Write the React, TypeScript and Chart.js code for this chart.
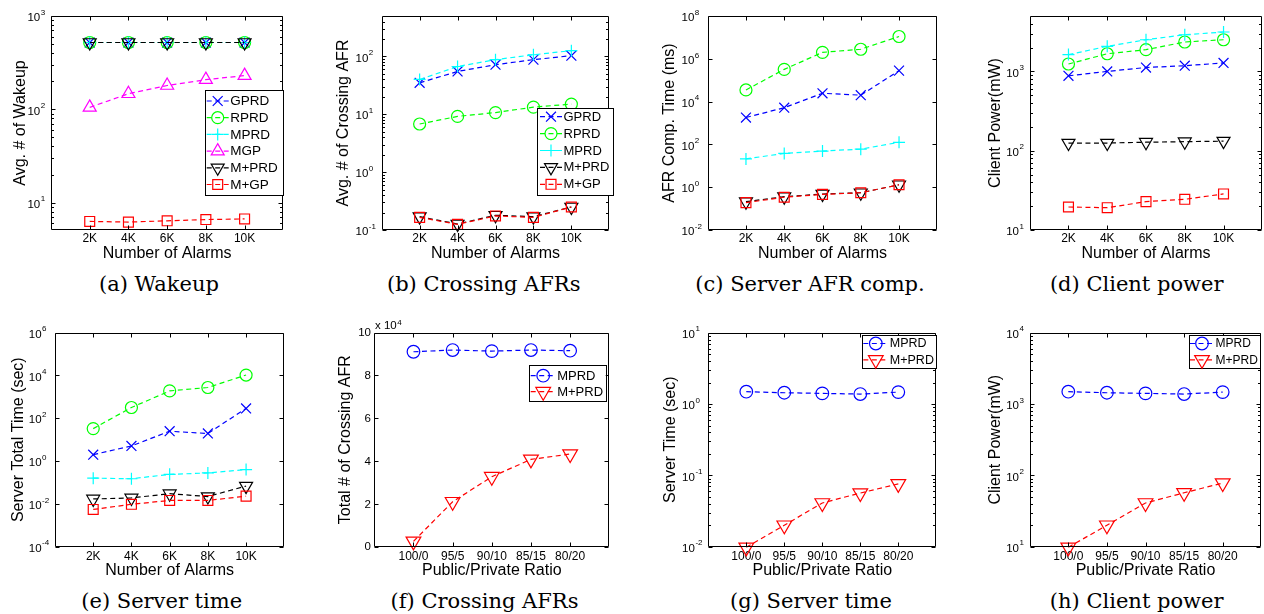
import React, { useEffect, useRef } from 'react';
import { Chart, registerables } from 'chart.js';
import { drawPoint } from 'chart.js/helpers';

Chart.register(...registerables);

// ---------- categories ----------
const alarmLabels = ['2K', '4K', '6K', '8K', '10K'];
const ratioLabels = ['100/0', '95/5', '90/10', '85/15', '80/20'];

// ---------- (a) Wakeup ----------
const wakeupGPRD = [520, 520, 520, 520, 520];
const wakeupRPRD = [520, 520, 520, 520, 520];
const wakeupMPRD = [520, 520, 520, 520, 520];
const wakeupMGP = [105, 147, 180, 208, 230];
const wakeupMPlusPRD = [520, 520, 520, 520, 520];
const wakeupMPlusGP = [6.3, 6.2, 6.4, 6.6, 6.7];

// ---------- (b) Crossing AFRs ----------
const crossGPRD = [35, 55, 72, 88, 103];
const crossRPRD = [6.8, 9.2, 10.7, 13.3, 15];
const crossMPRD = [40, 67, 88, 107, 126];
const crossMPlusPRD = [0.17, 0.127, 0.18, 0.17, 0.25];
const crossMPlusGP = [0.165, 0.125, 0.175, 0.165, 0.25];

// ---------- (c) Server AFR comp. ----------
const compGPRD = [1800, 5200, 24500, 20000, 280000];
const compRPRD = [35000, 320000, 2000000, 2800000, 11000000];
const compMPRD = [21, 38, 49, 60, 125];
const compMPlusPRD = [0.21, 0.36, 0.48, 0.55, 1.3];
const compMPlusGP = [0.19, 0.34, 0.46, 0.55, 1.3];

// ---------- (d) Client power ----------
const powerGPRD = [880, 1000, 1120, 1180, 1280];
const powerRPRD = [1240, 1670, 1880, 2350, 2510];
const powerMPRD = [1630, 2070, 2510, 2900, 3140];
const powerMPlusPRD = [125, 125, 128, 130, 132];
const powerMPlusGP = [19.5, 19.1, 22.8, 24.4, 28.5];

// ---------- (e) Server time ----------
const serverGPRD = [2.0, 5.1, 25, 19.5, 290];
const serverRPRD = [33, 320, 1900, 2750, 10500];
const serverMPRD = [0.16, 0.15, 0.24, 0.28, 0.4];
const serverMPlusPRD = [0.017, 0.019, 0.03, 0.022, 0.068];
const serverMPlusGP = [0.0055, 0.0096, 0.0145, 0.0145, 0.023];

// ---------- (f) Crossing AFRs vs ratio ----------
const totalCrossMPRD = [91100, 91900, 91400, 91900, 91600];
const totalCrossMPlusPRD = [2500, 21000, 32700, 40800, 43300];

// ---------- (g) Server time vs ratio ----------
const ratioServerMPRD = [1.49, 1.44, 1.41, 1.38, 1.47];
const ratioServerMPlusPRD = [0.0098, 0.02, 0.041, 0.0565, 0.076];

// ---------- (h) Client power vs ratio ----------
const ratioPowerMPRD = [1490, 1440, 1410, 1380, 1470];
const ratioPowerMPlusPRD = [9.8, 20, 41, 57, 78];

// ---------- y tick values ----------
const ticksA = [10, 100, 1000];
const ticksB = [0.1, 1, 10, 100];
const ticksC = [0.01, 1, 100, 10000, 1000000, 100000000];
const ticksD = [10, 100, 1000];
const ticksE = [0.0001, 0.01, 1, 100, 10000, 1000000];
const ticksF = [0, 20000, 40000, 60000, 80000, 100000];
const ticksG = [0.01, 0.1, 1, 10];
const ticksH = [10, 100, 1000, 10000];

// ---------- styles ----------
const STYLES: Record<string, any> = {
  GPRD: { color: '#0000ff', marker: 'crossRot', rot: 0, radius: 7 },
  RPRD: { color: '#00ff00', marker: 'circle', rot: 0, radius: 6 },
  MPRD: { color: '#00ffff', marker: 'cross', rot: 0, radius: 6 },
  MGP: { color: '#ff00ff', marker: 'triangle', rot: 0, radius: 7.5 },
  MPlusPRD: { color: '#000000', marker: 'triangle', rot: 180, radius: 7.5 },
  MPlusGP: { color: '#ff0000', marker: 'rect', rot: 0, radius: 7 },
  MPRDblue: { color: '#0000ff', marker: 'circle', rot: 0, radius: 6.3 },
  MPlusPRDred: { color: '#ff0000', marker: 'triangle', rot: 180, radius: 8.5 },
};

const SANS = '"Liberation Sans", Arial, Helvetica, sans-serif';
const TITLE_SIZE = 16;
const TITLE_HALF = (TITLE_SIZE * 1.2) / 2;
const TICK_SIZE = 12;
const BASE_SIZE = 11.5;
const EXP_SIZE = 8;

type Legend = { x0: number; y0: number; w: number; h: number; lx: number; len: number; gap: number; padTop: number; row: number; font: number };
type Panel = {
  id: string; caption: string; cx: number; cy: number;
  box: { l: number; t: number; r: number; b: number };
  yTitle: string; yTitleX: number; xTitle: string; xTitleY: number; xTickPad: number;
  xLabels: string[]; yType: 'logarithmic' | 'linear'; yMin: number; yMax: number; yTicks: number[];
  minor: boolean; sci?: string;
  series: { label: string; data: number[]; style: string }[];
  legend?: Legend;
};

const TOP_X_TITLE = 254;
const BOT_X_TITLE = 570.7;

const panels: Panel[] = [
  {
    id: 'a', caption: '(a) Wakeup', cx: 159, cy: 285,
    box: { l: 51, t: 16, r: 288, b: 230 },
    yTitle: 'Avg. # of Wakeup', yTitleX: 20.7, xTitle: 'Number of Alarms', xTitleY: TOP_X_TITLE, xTickPad: 1.8,
    xLabels: alarmLabels, yType: 'logarithmic', yMin: 5.1, yMax: 1000, yTicks: ticksA, minor: true,
    series: [
      { label: 'GPRD', data: wakeupGPRD, style: 'GPRD' },
      { label: 'RPRD', data: wakeupRPRD, style: 'RPRD' },
      { label: 'MPRD', data: wakeupMPRD, style: 'MPRD' },
      { label: 'MGP', data: wakeupMGP, style: 'MGP' },
      { label: 'M+PRD', data: wakeupMPlusPRD, style: 'MPlusPRD' },
      { label: 'M+GP', data: wakeupMPlusGP, style: 'MPlusGP' },
    ],
    legend: { x0: 205, y0: 90, w: 78, h: 105, lx: 1.7, len: 22, gap: 1.5, padTop: 11, row: 16.7, font: 13.5 },
  },
  {
    id: 'b', caption: '(b) Crossing AFRs', cx: 483.7, cy: 285,
    box: { l: 381.7, t: 16, r: 614, b: 230 },
    yTitle: 'Avg. # of Crossing AFR', yTitleX: 344, xTitle: 'Number of Alarms', xTitleY: TOP_X_TITLE, xTickPad: 1.8,
    xLabels: alarmLabels, yType: 'logarithmic', yMin: 0.1, yMax: 500, yTicks: ticksB, minor: true,
    series: [
      { label: 'GPRD', data: crossGPRD, style: 'GPRD' },
      { label: 'RPRD', data: crossRPRD, style: 'RPRD' },
      { label: 'MPRD', data: crossMPRD, style: 'MPRD' },
      { label: 'M+PRD', data: crossMPlusPRD, style: 'MPlusPRD' },
      { label: 'M+GP', data: crossMPlusGP, style: 'MPlusGP' },
    ],
    legend: { x0: 536.7, y0: 108, w: 76, h: 87, lx: 3.3, len: 22, gap: 1.5, padTop: 8.7, row: 16.9, font: 13 },
  },
  {
    id: 'c', caption: '(c) Server AFR comp.', cx: 810, cy: 285,
    box: { l: 707.7, t: 16, r: 941.7, b: 230 },
    yTitle: 'AFR Comp. Time (ms)', yTitleX: 670, xTitle: 'Number of Alarms', xTitleY: TOP_X_TITLE, xTickPad: 1.8,
    xLabels: alarmLabels, yType: 'logarithmic', yMin: 0.01, yMax: 1e8, yTicks: ticksC, minor: false,
    series: [
      { label: 'GPRD', data: compGPRD, style: 'GPRD' },
      { label: 'RPRD', data: compRPRD, style: 'RPRD' },
      { label: 'MPRD', data: compMPRD, style: 'MPRD' },
      { label: 'M+PRD', data: compMPlusPRD, style: 'MPlusPRD' },
      { label: 'M+GP', data: compMPlusGP, style: 'MPlusGP' },
    ],
  },
  {
    id: 'd', caption: '(d) Client power', cx: 1136.7, cy: 285,
    box: { l: 1029.7, t: 16, r: 1266.3, b: 230 },
    yTitle: 'Client Power(mW)', yTitleX: 996, xTitle: 'Number of Alarms', xTitleY: TOP_X_TITLE, xTickPad: 1.8,
    xLabels: alarmLabels, yType: 'logarithmic', yMin: 10, yMax: 5000, yTicks: ticksD, minor: true,
    series: [
      { label: 'GPRD', data: powerGPRD, style: 'GPRD' },
      { label: 'RPRD', data: powerRPRD, style: 'RPRD' },
      { label: 'MPRD', data: powerMPRD, style: 'MPRD' },
      { label: 'M+PRD', data: powerMPlusPRD, style: 'MPlusPRD' },
      { label: 'M+GP', data: powerMPlusGP, style: 'MPlusGP' },
    ],
  },
  {
    id: 'e', caption: '(e) Server time', cx: 161.7, cy: 601.7,
    box: { l: 55, t: 332.7, r: 288.3, b: 546.7 },
    yTitle: 'Server Total Time (sec)', yTitleX: 18.3, xTitle: 'Number of Alarms', xTitleY: BOT_X_TITLE, xTickPad: 2.8,
    xLabels: alarmLabels, yType: 'logarithmic', yMin: 0.0001, yMax: 1e6, yTicks: ticksE, minor: false,
    series: [
      { label: 'GPRD', data: serverGPRD, style: 'GPRD' },
      { label: 'RPRD', data: serverRPRD, style: 'RPRD' },
      { label: 'MPRD', data: serverMPRD, style: 'MPRD' },
      { label: 'M+PRD', data: serverMPlusPRD, style: 'MPlusPRD' },
      { label: 'M+GP', data: serverMPlusGP, style: 'MPlusGP' },
    ],
  },
  {
    id: 'f', caption: '(f) Crossing AFRs', cx: 484.5, cy: 601.7,
    box: { l: 374.3, t: 332.7, r: 615, b: 546.7 },
    yTitle: 'Total # of Crossing AFR', yTitleX: 345.3, xTitle: 'Public/Private Ratio', xTitleY: BOT_X_TITLE, xTickPad: 2.8,
    xLabels: ratioLabels, yType: 'linear', yMin: 0, yMax: 100000, yTicks: ticksF, minor: false, sci: '4',
    series: [
      { label: 'MPRD', data: totalCrossMPRD, style: 'MPRDblue' },
      { label: 'M+PRD', data: totalCrossMPlusPRD, style: 'MPlusPRDred' },
    ],
    legend: { x0: 529, y0: 365, w: 76.7, h: 36, lx: 1.7, len: 25, gap: 1.5, padTop: 10.7, row: 16, font: 13 },
  },
  {
    id: 'g', caption: '(g) Server time', cx: 811, cy: 601.7,
    box: { l: 708.3, t: 332.7, r: 941.7, b: 546.7 },
    yTitle: 'Server Time (sec)', yTitleX: 670.3, xTitle: 'Public/Private Ratio', xTitleY: BOT_X_TITLE, xTickPad: 2.8,
    xLabels: ratioLabels, yType: 'logarithmic', yMin: 0.01, yMax: 10, yTicks: ticksG, minor: true,
    series: [
      { label: 'MPRD', data: ratioServerMPRD, style: 'MPRDblue' },
      { label: 'M+PRD', data: ratioServerMPlusPRD, style: 'MPlusPRDred' },
    ],
    legend: { x0: 862.3, y0: 335, w: 74.4, h: 33, lx: 1, len: 25, gap: 1.5, padTop: 8.5, row: 16.3, font: 12.5 },
  },
  {
    id: 'h', caption: '(h) Client power', cx: 1136.7, cy: 601.7,
    box: { l: 1029.7, t: 332.7, r: 1266.3, b: 546.7 },
    yTitle: 'Client Power(mW)', yTitleX: 996, xTitle: 'Public/Private Ratio', xTitleY: BOT_X_TITLE, xTickPad: 2.8,
    xLabels: ratioLabels, yType: 'logarithmic', yMin: 10, yMax: 10000, yTicks: ticksH, minor: true,
    series: [
      { label: 'MPRD', data: ratioPowerMPRD, style: 'MPRDblue' },
      { label: 'M+PRD', data: ratioPowerMPlusPRD, style: 'MPlusPRDred' },
    ],
    legend: { x0: 1189, y0: 335, w: 71, h: 33, lx: 1, len: 24, gap: 1.5, padTop: 8.5, row: 16.3, font: 12 },
  },
];

// ---------- plugins ----------
const framePlugin = {
  id: 'frame',
  afterDatasetsDraw(chart: any, _args: any, o: any) {
    const { ctx, chartArea } = chart;
    const { left, right, top, bottom } = chartArea;
    const xs = chart.scales.x;
    const ys = chart.scales.y;
    ctx.save();
    ctx.setLineDash([]);
    ctx.strokeStyle = '#000';
    ctx.lineWidth = 1;
    const L = Math.round(left) + 0.5;
    const R = Math.round(right) - 0.5;
    const T = Math.round(top) + 0.5;
    const B = Math.round(bottom) - 0.5;
    ctx.beginPath();
    ctx.rect(L, T, R - L, B - T);
    ctx.stroke();
    const major = 4;
    const minorLen = 2.5;
    ctx.beginPath();
    for (let i = 1; i <= o.nx; i++) {
      const px = Math.round(xs.getPixelForValue(i)) + 0.5;
      ctx.moveTo(px, B); ctx.lineTo(px, B - major);
      ctx.moveTo(px, T); ctx.lineTo(px, T + major);
    }
    for (const v of o.yTicks) {
      const py = Math.round(ys.getPixelForValue(v)) + 0.5;
      ctx.moveTo(L, py); ctx.lineTo(L + major, py);
      ctx.moveTo(R, py); ctx.lineTo(R - major, py);
    }
    if (o.log && o.minor) {
      const lo = Math.floor(Math.log10(o.yMin));
      const hi = Math.ceil(Math.log10(o.yMax));
      for (let k = lo; k <= hi; k++) {
        for (let m = 2; m <= 9; m++) {
          const v = m * Math.pow(10, k);
          if (v <= o.yMin || v >= o.yMax) continue;
          const py = Math.round(ys.getPixelForValue(v)) + 0.5;
          ctx.moveTo(L, py); ctx.lineTo(L + minorLen, py);
          ctx.moveTo(R, py); ctx.lineTo(R - minorLen, py);
        }
      }
    }
    ctx.stroke();

    // y tick labels
    ctx.fillStyle = '#000';
    ctx.textBaseline = 'middle';
    if (o.log) {
      const exps = o.yTicks.map((v: number) => String(Math.round(Math.log10(v))));
      ctx.font = `${EXP_SIZE}px ${SANS}`;
      const maxW = Math.max(...exps.map((s: string) => ctx.measureText(s).width));
      const baseRight = left - 6.3 - maxW;
      o.yTicks.forEach((v: number, i: number) => {
        const py = ys.getPixelForValue(v);
        ctx.font = `${BASE_SIZE}px ${SANS}`;
        ctx.textAlign = 'right';
        ctx.fillText('10', baseRight, py + 2);
        ctx.font = `${EXP_SIZE}px ${SANS}`;
        ctx.textAlign = 'left';
        ctx.fillText(exps[i], baseRight + 0.5, py - 3.5);
      });
    } else {
      ctx.font = `${BASE_SIZE}px ${SANS}`;
      ctx.textAlign = 'right';
      o.yTicks.forEach((v: number) => {
        const py = ys.getPixelForValue(v);
        ctx.fillText(String(v / 10000), left - 3.3, py + 0.5);
      });
      if (o.sci) {
        ctx.textAlign = 'left';
        ctx.font = `${BASE_SIZE}px ${SANS}`;
        const base = 'x 10';
        ctx.fillText(base, left + 0.7, top - 6.5);
        const w = ctx.measureText(base).width;
        ctx.font = `${EXP_SIZE}px ${SANS}`;
        ctx.fillText(o.sci, left + 0.7 + w + 0.5, top - 10);
      }
    }
    ctx.restore();
  },
};

const legendPlugin = {
  id: 'boxLegend',
  afterDraw(chart: any, _args: any, o: any) {
    if (!o || !o.show) return;
    const { ctx, chartArea } = chart;
    const x0 = chartArea.left + o.x;
    const y0 = chartArea.top + o.y;
    ctx.save();
    ctx.setLineDash([]);
    ctx.fillStyle = '#fff';
    ctx.fillRect(x0, y0, o.w, o.h);
    ctx.strokeStyle = '#000';
    ctx.lineWidth = 1;
    ctx.strokeRect(Math.round(x0) + 0.5, Math.round(y0) + 0.5, Math.round(o.w), Math.round(o.h));
    chart.data.datasets.forEach((d: any, row: number) => {
      const cy = y0 + o.padTop + row * o.row;
      const lx0 = x0 + o.lx;
      const lx1 = lx0 + o.len;
      ctx.strokeStyle = d.borderColor;
      ctx.lineWidth = d.borderWidth;
      ctx.setLineDash(d.borderDash);
      ctx.beginPath();
      ctx.moveTo(lx0, cy);
      ctx.lineTo(lx1, cy);
      ctx.stroke();
      ctx.setLineDash([]);
      ctx.strokeStyle = d.pointBorderColor;
      ctx.fillStyle = 'rgba(0,0,0,0)';
      ctx.lineWidth = d.pointBorderWidth;
      drawPoint(ctx, { pointStyle: d.pointStyle, rotation: d.pointRotation, radius: d.pointRadius, borderWidth: d.pointBorderWidth } as any, (lx0 + lx1) / 2, cy);
      ctx.fillStyle = '#000';
      ctx.font = `${o.font}px ${SANS}`;
      ctx.textAlign = 'left';
      ctx.textBaseline = 'middle';
      ctx.fillText(d.label, lx1 + o.gap, cy + 0.5);
    });
    ctx.restore();
  },
};

function geometry(p: Panel) {
  const titleLeft = p.yTitleX - TITLE_HALF;
  const titleBottom = p.xTitleY + TITLE_HALF;
  const cl = Math.floor(titleLeft - 1);
  const ct = Math.floor(p.box.t - 16);
  const cr = Math.ceil(p.box.r + 4);
  const cb = Math.ceil(titleBottom + 1);
  return {
    cl, ct, cw: cr - cl, ch: cb - ct,
    pad: { left: titleLeft - cl, top: p.box.t - ct, right: cr - p.box.r, bottom: cb - titleBottom },
    yW: p.box.l - titleLeft,
    xH: titleBottom - p.box.b,
  };
}

function makeConfig(p: Panel): any {
  const g = geometry(p);
  const n = p.series.length;
  const tickFont = { family: SANS, size: TICK_SIZE };
  const titleFont = { family: SANS, size: TITLE_SIZE };
  return {
    type: 'line',
    data: {
      datasets: p.series.map((s, i) => {
        const st = STYLES[s.style];
        return {
          label: s.label,
          data: s.data.map((y, j) => ({ x: j + 1, y })),
          borderColor: st.color,
          borderWidth: 1.2,
          borderDash: [5, 3.5],
          pointStyle: st.marker,
          pointRotation: st.rot,
          pointRadius: st.radius,
          pointHoverRadius: st.radius,
          pointBorderColor: st.color,
          pointBackgroundColor: 'rgba(0,0,0,0)',
          pointBorderWidth: 1.2,
          fill: false,
          tension: 0,
          clip: false,
          order: n - 1 - i,
        };
      }),
    },
    options: {
      responsive: false,
      animation: false,
      devicePixelRatio: 1,
      events: [],
      layout: { padding: g.pad },
      plugins: {
        legend: { display: false },
        tooltip: { enabled: false },
        frame: { yTicks: p.yTicks, log: p.yType === 'logarithmic', minor: p.minor, yMin: p.yMin, yMax: p.yMax, nx: p.xLabels.length, sci: p.sci },
        boxLegend: p.legend
          ? { show: true, x: p.legend.x0 - p.box.l, y: p.legend.y0 - p.box.t, w: p.legend.w, h: p.legend.h, lx: p.legend.lx, len: p.legend.len, gap: p.legend.gap, padTop: p.legend.padTop, row: p.legend.row, font: p.legend.font }
          : { show: false },
      },
      scales: {
        x: {
          type: 'linear',
          min: 0,
          max: p.xLabels.length + 1,
          ticks: {
            stepSize: 1,
            autoSkip: false,
            maxRotation: 0,
            minRotation: 0,
            padding: p.xTickPad,
            font: tickFont,
            color: '#000',
            callback: (v: number) => p.xLabels[v - 1] ?? '',
          },
          grid: { display: false, drawTicks: false },
          border: { display: false },
          title: { display: true, text: p.xTitle, font: titleFont, color: '#000', padding: 0 },
          afterFit: (s: any) => { s.height = g.xH; },
        },
        y: {
          type: p.yType,
          min: p.yMin,
          max: p.yMax,
          ticks: { display: false },
          grid: { display: false, drawTicks: false },
          border: { display: false },
          title: { display: true, text: p.yTitle, font: titleFont, color: '#000', padding: 0 },
          afterFit: (s: any) => { s.width = g.yW; },
        },
      },
    },
    plugins: [framePlugin, legendPlugin],
  };
}

function PanelChart({ p }: { p: Panel }) {
  const ref = useRef<HTMLCanvasElement | null>(null);
  const g = geometry(p);
  useEffect(() => {
    if (!ref.current) return;
    const chart = new Chart(ref.current, makeConfig(p));
    return () => chart.destroy();
  }, []);
  return (
    <canvas
      ref={ref}
      width={g.cw}
      height={g.ch}
      style={{ position: 'absolute', left: g.cl, top: g.ct, width: g.cw, height: g.ch }}
    />
  );
}

export default function App() {
  return (
    <div style={{ position: 'fixed', left: 0, top: 0, width: 1264, height: 614, overflow: 'hidden', background: '#fff' }}>
      {panels.map((p) => (
        <PanelChart key={p.id} p={p} />
      ))}
      {panels.map((p) => (
        <div
          key={'cap' + p.id}
          style={{
            position: 'absolute',
            left: p.cx,
            top: p.cy - 12.6,
            transform: 'translateX(-50%)',
            whiteSpace: 'nowrap',
            fontFamily: '"DejaVu Serif", "Liberation Serif", serif',
            fontSize: 21,
            lineHeight: '24px',
            color: '#000',
          }}
        >
          {p.caption}
        </div>
      ))}
    </div>
  );
}
